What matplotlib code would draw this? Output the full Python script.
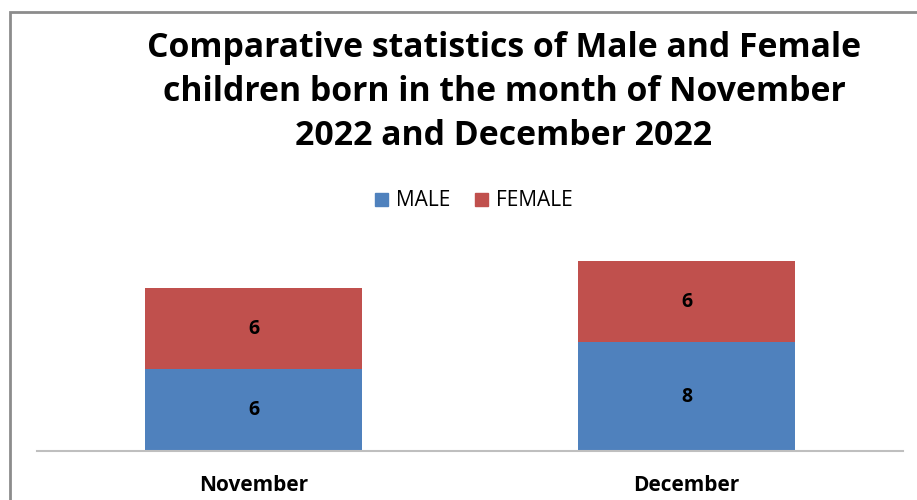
import matplotlib
matplotlib.use("Agg")
import matplotlib.pyplot as plt
from matplotlib.patches import Rectangle, Patch

categories = ["November", "December"]
male = [6, 8]
female = [6, 6]
title = "Comparative statistics of Male and Female\nchildren born in the month of November\n2022 and December 2022"

blue = "#4F81BD"
red = "#C0504D"

fig = plt.figure(figsize=(9.17, 5.0), dpi=100)
fig.patches.append(Rectangle((10/917, -0.1), 1.2, (500-12)/500 + 0.1, transform=fig.transFigure,
                             fill=False, edgecolor="#8C8C8C", linewidth=2))

ax = fig.add_axes([37/917, 49/500, 866/917, 231/500])
x = list(range(len(categories)))
b1 = ax.bar(x, male, width=0.503, color=blue, label="MALE")
b2 = ax.bar(x, female, width=0.503, bottom=male, color=red, label="FEMALE")
ax.set_xlim(-0.5, 1.5)
ax.set_ylim(0, 17)
for s in ["top", "right", "left"]:
    ax.spines[s].set_visible(False)
ax.spines["bottom"].set_color("#BFBFBF")
ax.spines["bottom"].set_linewidth(1.5)
ax.set_yticks([])
ax.set_xticks(x)
ax.set_xticklabels(categories, fontsize=15, fontweight="bold", family="Open Sans")
ax.tick_params(axis="x", length=0, pad=17)

for i in x:
    ax.text(i, male[i]/2, str(male[i]), ha="center", va="center", fontsize=14, fontweight="bold", family="Open Sans")
    ax.text(i, male[i] + female[i]/2, str(female[i]), ha="center", va="center", fontsize=14, fontweight="bold", family="Open Sans")

fig.text(504/917, 1 - 92/500, title, ha="center", va="center", fontsize=24.3, fontweight="bold",
         family="Open Sans", linespacing=1.4)

handles = [Patch(color=blue), Patch(color=red)]
fig.legend(handles, ["MALE", "FEMALE"], loc="center", bbox_to_anchor=(474/917, 1 - 201/500), ncol=2,
           frameon=False, prop={"family": "Open Sans", "size": 15}, handlelength=0.6, handleheight=0.6,
           handletextpad=0.4, columnspacing=1.2)

fig.savefig("out.png", dpi=100)
